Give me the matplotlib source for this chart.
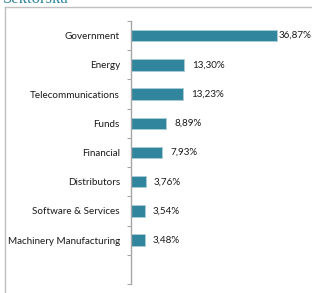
import matplotlib
matplotlib.use("Agg")
import matplotlib.pyplot as plt
from matplotlib.lines import Line2D

categories = ["Government", "Energy", "Telecommunications", "Funds", "Financial",
              "Distributors", "Software & Services", "Machinery Manufacturing"]
values = [36.87, 13.30, 13.23, 8.89, 7.93, 3.76, 3.54, 3.48]
value_labels = ["36,87%", "13,30%", "13,23%", "8,89%", "7,93%", "3,76%", "3,54%", "3,48%"]
title = "Sektorska"

W, H = 312, 293
fig = plt.figure(figsize=(W / 100, H / 100), dpi=100)
fig.patch.set_facecolor("white")

ax = fig.add_axes([131 / W, 1 - 284 / H, 1 - 131 / W, (284 - 21) / H])
n_slots = len(categories) + 1
ypos = list(range(len(categories)))
bar_color = "#31859C"
ax.barh(ypos, values, height=0.39, color=bar_color, edgecolor="#a9cdd7", linewidth=0.6)
ax.set_ylim(n_slots - 0.5, -0.5)
ax.set_xlim(0, (W - 131) / 3.96)

# category labels
ax.set_yticks(ypos)
ax.set_yticklabels(categories, fontsize=7.1, family="Lato", color="#1a1a1a")
ax.tick_params(axis="y", which="major", length=0, pad=8)
ax.set_yticks([i - 0.5 for i in range(n_slots + 1)], minor=True)
ax.tick_params(axis="y", which="minor", length=3, width=0.8, color="#a6a6a6", direction="out")
ax.set_xticks([])
for s in ["top", "right", "bottom"]:
    ax.spines[s].set_visible(False)
ax.spines["left"].set_color("#a6a6a6")
ax.spines["left"].set_linewidth(1.0)

vmax = max(values)
for y, v, lab in zip(ypos, values, value_labels):
    off = 0.8 if v == vmax else 5.8
    ax.annotate(lab, xy=(v, y), xytext=(off, 0), textcoords="offset points",
                va="center", ha="left", fontsize=7.1, family="Lato", color="#1a1a1a")

# outer frame (top and left visible)
fig.add_artist(Line2D([5 / W, 1], [1 - 7 / H, 1 - 7 / H], transform=fig.transFigure,
                      color="#bfbfbf", linewidth=1.0))
fig.add_artist(Line2D([5 / W, 5 / W], [0, 1 - 7 / H], transform=fig.transFigure,
                      color="#bfbfbf", linewidth=1.0))

fig.text(3 / W, 1 - 3 / H, title, fontsize=12, family="Liberation Serif",
         color=bar_color, ha="left", va="baseline")

fig.savefig("out.png", dpi=100)
